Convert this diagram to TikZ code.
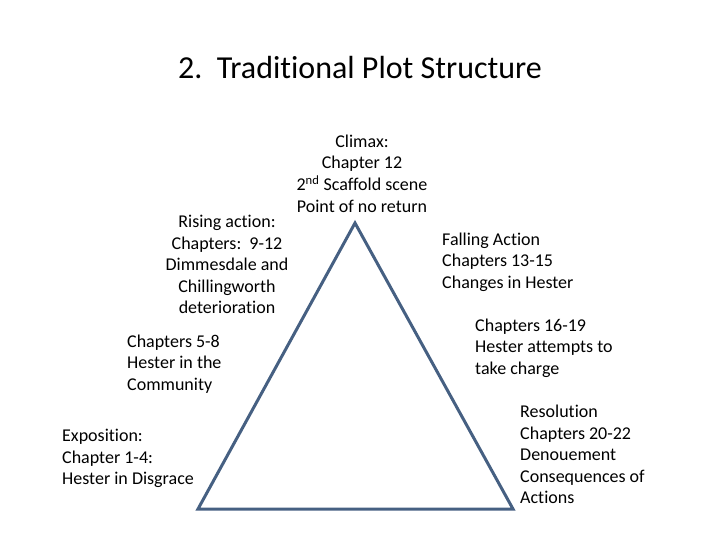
\documentclass[tikz,border=0pt]{standalone}
\usepackage{fontspec}
\setmainfont[Ligatures=NoCommon]{Carlito}
\definecolor{tri}{RGB}{70,96,130}
\begin{document}
\begin{tikzpicture}[x=1pt,y=-1pt,
  lbl/.style={inner sep=0pt,font=\fontsize{18}{21.6}\selectfont},
  lblc/.style={lbl,align=center},
  lbll/.style={lbl,align=left,anchor=west}]
\useasboundingbox (0,0) rectangle (720,540);
\node[inner sep=0pt,font=\fontsize{32}{36}\selectfont] (title) at (360,68) {2.\ \ Traditional Plot Structure};
\coordinate (apex) at (355,223);
\coordinate (bl) at (198,509);
\coordinate (br) at (513,509);
\draw[tri,line width=3pt,line join=miter] (apex) -- (br) -- (bl) -- cycle;
\node[lblc] (climax) at (362,173.5) {Climax:\\Chapter 12\\2\textsuperscript{nd} Scaffold scene\\Point of no return};
\node[lblc] (rising) at (227,264.5) {Rising action:\\Chapters:\ \ 9-12\\Dimmesdale and\\Chillingworth\\deterioration};
\node[lbll] (falling) at (442,262) {Falling Action\\Chapters 13-15\\Changes in Hester};
\node[lbll] (ch16) at (475,348) {Chapters 16-19\\Hester attempts to\\take charge};
\node[lbll] (resol) at (520,454.5) {Resolution\\Chapters 20-22\\Denouement\\Consequences of\\Actions};
\node[lbll] (ch5) at (127,364) {Chapters 5-8\\Hester in the\\Community};
\node[lbll] (expo) at (62,458.5) {Exposition:\\Chapter 1-4:\\Hester in Disgrace};
\end{tikzpicture}
\end{document}
